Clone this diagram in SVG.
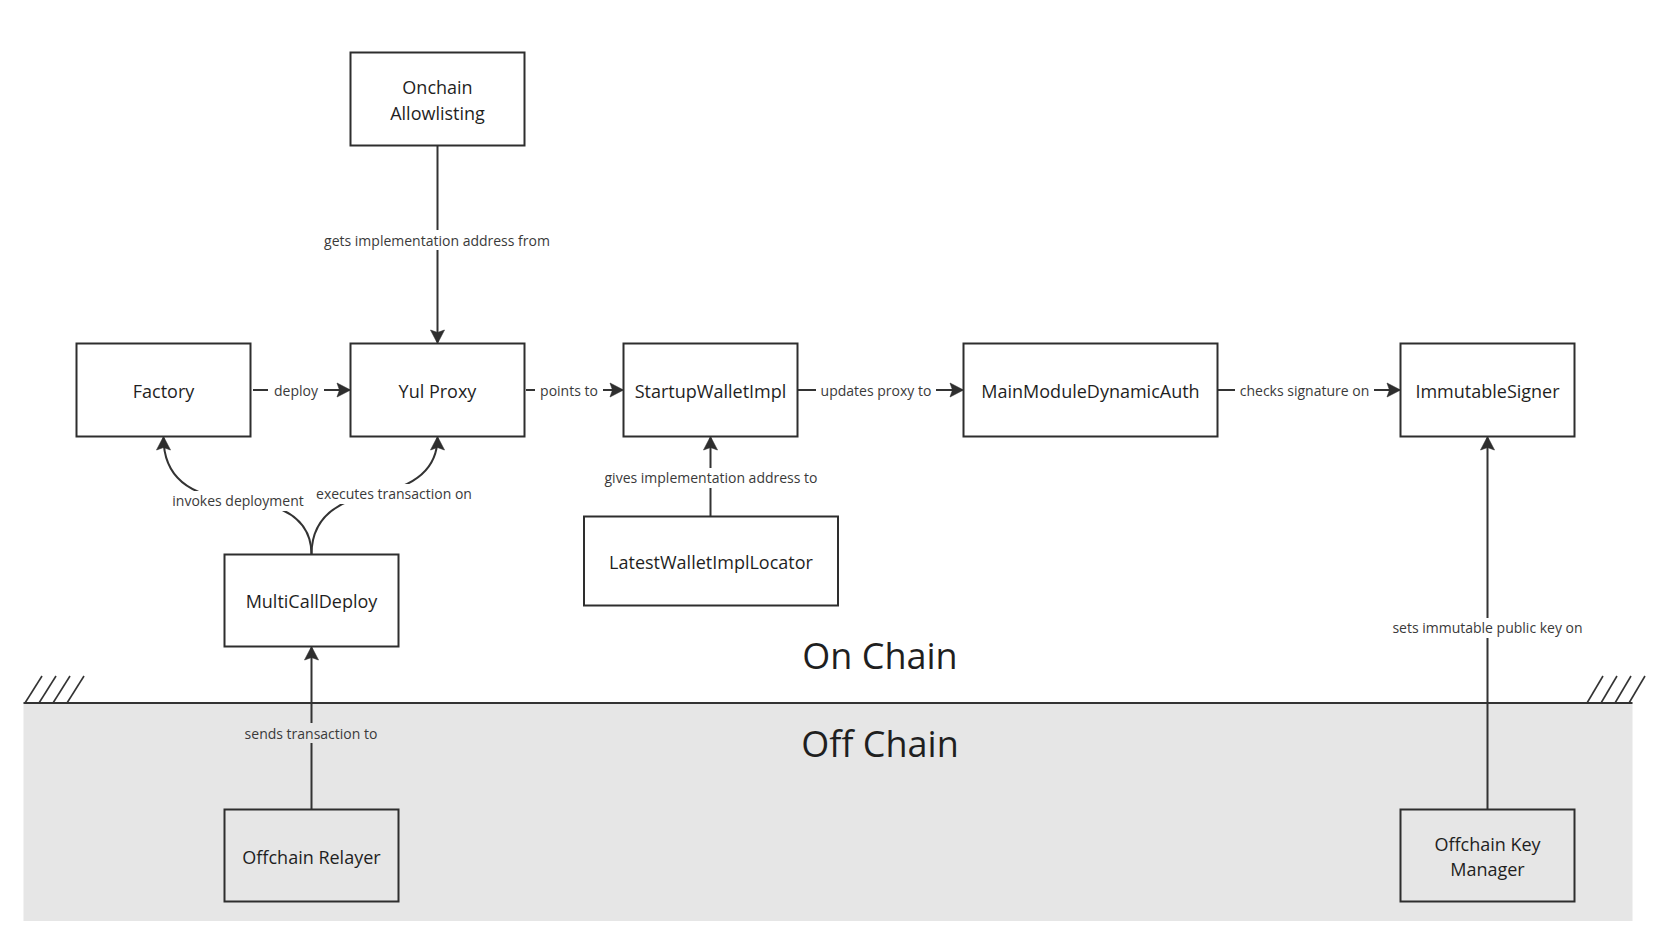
<svg xmlns="http://www.w3.org/2000/svg" width="1674" height="933" viewBox="0 0 1674 933">
  <style>
    .box { fill: #ffffff; stroke: #2e2e2e; stroke-width: 2; }
    .obox { fill: #e6e6e6; stroke: #2e2e2e; stroke-width: 2; }
    .nt { font-family: "Open Sans", "Liberation Sans", sans-serif; font-size: 18px; fill: #1f1f1f; text-anchor: middle; }
    .lt { font-family: "Open Sans", "Liberation Sans", sans-serif; font-size: 14px; fill: #3a3a3a; text-anchor: middle; }
    .title { font-family: "Open Sans", "Liberation Sans", sans-serif; font-size: 36px; fill: #1f1f1f; text-anchor: middle; }
    .edge { fill: none; stroke: #333333; stroke-width: 2; }
    .hatch { stroke: #333333; stroke-width: 1.6; }
    .lbg { fill: #ffffff; }
    .lbgg { fill: #e6e6e6; }
  </style>
  <defs>
    <marker id="arr" viewBox="-15 -9 17 18" refX="-1" refY="0" markerWidth="17" markerHeight="18" markerUnits="userSpaceOnUse" orient="auto">
      <path d="M0,0 L-13.5,-7 L-11,0 L-13.5,7 Z" fill="#2e2e2e" stroke="#2e2e2e" stroke-width="0.6" stroke-linejoin="round"/>
    </marker>
  </defs>

  <rect width="1674" height="933" fill="#ffffff"/>

  <!-- Off chain band -->
  <g id="band">
    <rect x="23.5" y="703" width="1609" height="218" fill="#e6e6e6"/>
    <line x1="23.5" y1="703" x2="1632.5" y2="703" stroke="#333333" stroke-width="2"/>
    <line class="hatch" x1="25" y1="703" x2="42" y2="676"/>
    <line class="hatch" x1="39" y1="703" x2="56" y2="676"/>
    <line class="hatch" x1="53" y1="703" x2="70" y2="676"/>
    <line class="hatch" x1="67" y1="703" x2="84" y2="676"/>
    <line class="hatch" x1="1587" y1="703" x2="1603" y2="676"/>
    <line class="hatch" x1="1601" y1="703" x2="1617" y2="676"/>
    <line class="hatch" x1="1615" y1="703" x2="1631" y2="676"/>
    <line class="hatch" x1="1629" y1="703" x2="1645" y2="676"/>
    <text class="title" x="880" y="669">On Chain</text>
    <text class="title" x="880" y="757">Off Chain</text>
  </g>

  <!-- Connectors -->
  <g id="connectors">
    <path class="edge" d="M437.5,145.5 L437.5,342.5" marker-end="url(#arr)"/>
    <path class="edge" d="M253,390 L349.5,390" marker-end="url(#arr)"/>
    <path class="edge" d="M526,390 L622.5,390" marker-end="url(#arr)"/>
    <path class="edge" d="M798,390 L962.5,390" marker-end="url(#arr)"/>
    <path class="edge" d="M1218,390 L1399.5,390" marker-end="url(#arr)"/>
    <path class="edge" d="M710.5,516.5 L710.5,437.5" marker-end="url(#arr)"/>
    <path class="edge" d="M311.5,554.5 Q311.5,505 237,500 Q163.5,495 163.5,437.5" marker-end="url(#arr)"/>
    <path class="edge" d="M311.5,554.5 Q311.5,505 374,494 Q437.5,483 437.5,437.5" marker-end="url(#arr)"/>
    <path class="edge" d="M311.5,809.5 L311.5,647.5" marker-end="url(#arr)"/>
    <path class="edge" d="M1487.5,809.5 L1487.5,437.5" marker-end="url(#arr)"/>

    <rect class="lbg" x="268" y="380" width="56" height="20"/>
    <text class="lt" x="296" y="395.5">deploy</text>
    <rect class="lbg" x="535" y="380" width="68" height="20"/>
    <text class="lt" x="569" y="395.5">points to</text>
    <rect class="lbg" x="816" y="380" width="120" height="20"/>
    <text class="lt" x="876" y="395.5">updates proxy to</text>
    <rect class="lbg" x="1235" y="380" width="139" height="20"/>
    <text class="lt" x="1304.5" y="395.5">checks signature on</text>
    <rect class="lbg" x="318" y="230" width="238" height="20"/>
    <text class="lt" x="437" y="245.5">gets implementation address from</text>
    <rect class="lbg" x="598" y="468" width="226" height="20"/>
    <text class="lt" x="711" y="483">gives implementation address to</text>
    <rect class="lbg" x="167" y="491" width="142" height="20"/>
    <text class="lt" x="238" y="506">invokes deployment</text>
    <rect class="lbg" x="311" y="484" width="166" height="20"/>
    <text class="lt" x="394" y="499">executes transaction on</text>
    <rect class="lbgg" x="239" y="723" width="145" height="20"/>
    <text class="lt" x="311" y="738.5">sends transaction to</text>
    <rect class="lbg" x="1386" y="618" width="203" height="20"/>
    <text class="lt" x="1487.5" y="633">sets immutable public key on</text>
  </g>

  <!-- Nodes -->
  <g id="onchain-allowlisting">
    <rect class="box" x="350.5" y="52.5" width="174" height="93"/>
    <text class="nt" x="437.5" y="94">Onchain</text>
    <text class="nt" x="437.5" y="119.5">Allowlisting</text>
  </g>
  <g id="factory">
    <rect class="box" x="76.5" y="343.5" width="174" height="93"/>
    <text class="nt" x="163.5" y="397.5">Factory</text>
  </g>
  <g id="yul-proxy">
    <rect class="box" x="350.5" y="343.5" width="174" height="93"/>
    <text class="nt" x="437.5" y="397.5">Yul Proxy</text>
  </g>
  <g id="startup-wallet-impl">
    <rect class="box" x="623.5" y="343.5" width="174" height="93"/>
    <text class="nt" x="710.5" y="397.5">StartupWalletImpl</text>
  </g>
  <g id="main-module-dynamic-auth">
    <rect class="box" x="963.5" y="343.5" width="254" height="93"/>
    <text class="nt" x="1090.5" y="397.5">MainModuleDynamicAuth</text>
  </g>
  <g id="immutable-signer">
    <rect class="box" x="1400.5" y="343.5" width="174" height="93"/>
    <text class="nt" x="1487.5" y="397.5">ImmutableSigner</text>
  </g>
  <g id="latest-wallet-impl-locator">
    <rect class="box" x="584" y="516.5" width="254" height="89"/>
    <text class="nt" x="711" y="568.5">LatestWalletImplLocator</text>
  </g>
  <g id="multi-call-deploy">
    <rect class="box" x="224.5" y="554.5" width="174" height="92"/>
    <text class="nt" x="311.5" y="608">MultiCallDeploy</text>
  </g>
  <g id="offchain-relayer">
    <rect class="obox" x="224.5" y="809.5" width="174" height="92"/>
    <text class="nt" x="311.5" y="863.5">Offchain Relayer</text>
  </g>
  <g id="offchain-key-manager">
    <rect class="obox" x="1400.5" y="809.5" width="174" height="92"/>
    <text class="nt" x="1487.5" y="850.5">Offchain Key</text>
    <text class="nt" x="1487.5" y="876">Manager</text>
  </g>
</svg>
